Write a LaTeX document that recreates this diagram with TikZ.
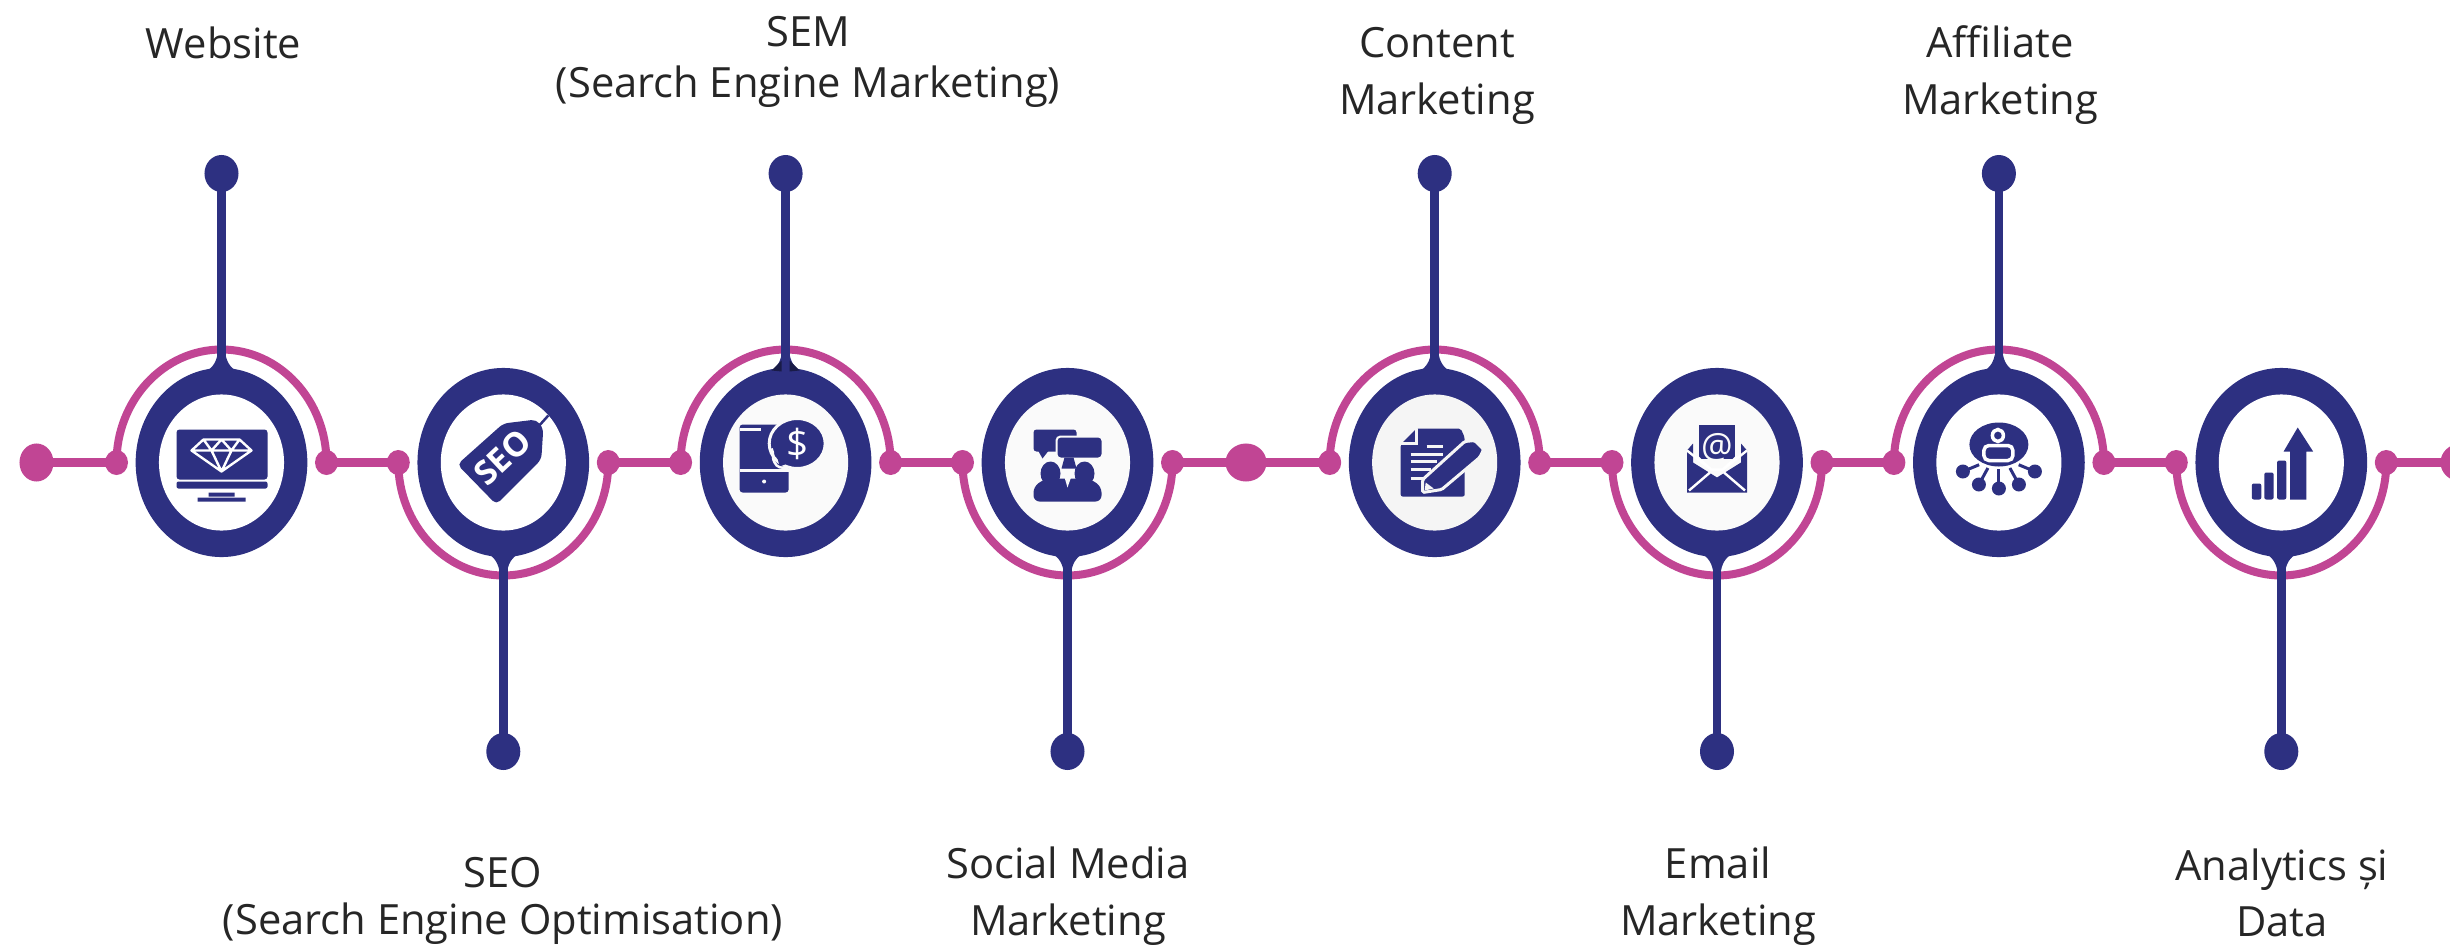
\documentclass[tikz,border=0pt]{standalone}
\usepackage{fontspec}
\setmainfont{Open Sans}
\usetikzlibrary{shapes.geometric}
\definecolor{navyink}{HTML}{2D3081}
\definecolor{plum}{HTML}{C14594}
\definecolor{labelgray}{HTML}{262626}
\tikzset{
  ring/.style={ellipse, fill=navyink, inner sep=0pt, minimum width=1.716cm, minimum height=1.89cm},
  face/.style={ellipse, inner sep=0pt, minimum width=1.25cm, minimum height=1.36cm},
  joint/.style={ellipse, fill=plum, inner sep=0pt, minimum width=0.23cm, minimum height=0.25cm},
  bigjoint/.style={ellipse, fill=plum, inner sep=0pt, minimum height=0.38cm},
  tipdot/.style={ellipse, fill=navyink, inner sep=0pt, minimum width=0.34cm, minimum height=0.37cm},
  track/.style={draw=plum, line width=0.09cm},
  loopline/.style={draw=plum, line width=0.08cm},
  stem/.style={draw=navyink, line width=0.085cm},
  caption/.style={text=labelgray, font=\fontsize{11.85}{13}\selectfont, align=center, inner sep=0pt},
  cut/.style={draw=white, line width=0.024cm},
  cutfat/.style={draw=white, line width=0.035cm}
}
\begin{document}
\begin{tikzpicture}[x=0.01cm, y=-0.01cm]
  \useasboundingbox (0,0) rectangle (2450,945);

  % rings, joints and end dots
  \foreach \i/\cx/\sd/\fc in {1/221.5/1/white, 2/503.3/-1/white, 3/785.6/1/black!2, 4/1067.5/-1/black!2,
                              5/1434.7/1/black!4, 6/1717/-1/black!2, 7/1998.9/1/white, 8/2281.3/-1/white} {
    \node[ring] (ring\i) at (\cx,462.5) {};
    \node[face, fill=\fc] (face\i) at (\cx,462.5) {};
    \node[joint] (jl\i) at ({\cx-105},462.5) {};
    \node[joint] (jr\i) at ({\cx+105},462.5) {};
    \node[tipdot] (tip\i) at (\cx,{462.5-289*\sd}) {};
    \coordinate (apex\i) at (\cx,{462.5-113*\sd});
    % half loop round the ring
    \draw[loopline] (jl\i.center) .. controls +(0,{-62*\sd}) and +(-58,0) .. (apex\i)
      .. controls +(58,0) and +(0,{-62*\sd}) .. (jr\i.center);
    \draw[stem] (ring\i) -- (tip\i.center);
    \fill[navyink, shift={(ring\i.center)}, yscale=\sd] (-20,-88) .. controls (-10,-94) and (-6,-98) .. (-4,-108)
      -- (4,-108) .. controls (6,-98) and (10,-94) .. (20,-88) -- cycle;
  }
  \node[bigjoint, minimum width=0.34cm] (start) at (36.5,462.5) {};
  \node[bigjoint, minimum width=0.41cm] (mid) at (1246,462.5) {};
  \node[bigjoint, minimum width=0.41cm] (finish) at (2461,462.5) {};

  % dark corners under the third stem
  \fill[navyink!55!black] (ring3.center) ++(-14,-92) -- ++(10,-10) -- ++(0,11) -- cycle;
  \fill[navyink!55!black] (ring3.center) ++(14,-92) -- ++(-10,-10) -- ++(0,11) -- cycle;

  % pink track
  \draw[track] (start.center) -- (jl1.center);
  \draw[track] (jr1.center) -- (jl2.center);
  \draw[track] (jr2.center) -- (jl3.center);
  \draw[track] (jr3.center) -- (jl4.center);
  \draw[track] (jr4.center) -- (mid.center);
  \draw[track] (mid.center) -- (jl5.center);
  \draw[track] (jr5.center) -- (jl6.center);
  \draw[track] (jr6.center) -- (jl7.center);
  \draw[track] (jr7.center) -- (jl8.center);
  \draw[track] (jr8.center) -- (finish.center);

  % captions
  \node[caption] (capweb) at (223.5,43) {Website};
  \node[caption] (capsem) at (808,62) {SEM\\[0.06cm](Search Engine Marketing)};
  \node[caption] (capcontent) at (1437,76) {Content\\[0.12cm]Marketing};
  \node[caption] (capaffil) at (2000,75) {Affiliate\\[0.12cm]Marketing};
  \node[caption] (capseo) at (503,901) {SEO\\[0.02cm](Search Engine Optimisation)};
  \node[caption] (capsocial) at (1068,896) {Social Media\\[0.11cm]Marketing};
  \node[caption] (capemail) at (1718,896) {Email\\[0.11cm]Marketing};
  \node[caption] (capdata) at (2282,893) {Analytics și\\[0.11cm]Data};

  % website icon
  \begin{scope}[shift={(ring1.center)}]
    \fill[navyink, rounded corners=0.03cm] (-45,-33) rectangle (46,17);
    \fill[navyink, rounded corners=0.02cm] (-45,19) rectangle (46,26);
    \fill[navyink] (-13,30) rectangle (13,34) (-24,35) rectangle (24,39);
    \draw[cut, line join=round] (-18,-23) -- (18,-23) -- (30,-12) -- (0,9) -- (-30,-12) -- cycle
      (-30,-12) -- (30,-12) (-18,-23) -- (-10,-12) -- (0,9) -- (10,-12) -- (18,-23)
      (-10,-12) -- (0,-23) -- (10,-12);
  \end{scope}

  % seo tag icon
  \begin{scope}[shift={(ring2.center)}]
    \fill[navyink, rounded corners=0.05cm] (0,-39) -- (33,-43) -- (40,-34) -- (38,-3) -- (-7,42) -- (-46,2) -- cycle;
    \draw[navyink, line width=0.025cm] (36,-37) -- (45,-47);
    \node[text=white, font=\fontsize{9.5}{11}\bfseries, rotate=43, inner sep=0pt] (seotxt) at (-1,-5) {SEO};
  \end{scope}

  % sem phone icon
  \begin{scope}[shift={(ring3.center)}]
    \fill[navyink, rounded corners=0.03cm] (-46,-38) rectangle (3,30);
    \draw[draw=black!2, line width=0.03cm] (-46,-33) -- (-25,-33) (-46,8) -- (3,8);
    \fill[black!2] (-21.5,19) circle (2);
    \fill[navyink, draw=black!2, line width=0.03cm] (11.6,-19) ellipse (28 and 25);
    \fill[navyink] (-9,-8) -- (2,1) -- (-6,4) -- cycle;
    \draw[draw=black!2, line width=0.025cm] (-14,-14) .. controls (-11,-8) and (-14,-4) .. (-11,0) .. controls (-9,5) and (-4,6) .. (3,5);
    \node[text=white, font=\fontsize{11}{13}\selectfont, inner sep=0pt] (semtxt) at (11.6,-19) {\$};
  \end{scope}

  % social media icon
  \begin{scope}[shift={(ring4.center)}]
    \fill[navyink, rounded corners=0.03cm] (-34,-33) rectangle (9,-11);
    \fill[navyink] (-30,-13) -- (-25,-4) -- (-18,-13) -- cycle;
    \fill[navyink, draw=black!2, line width=0.02cm, rounded corners=0.04cm] (-11,-26) rectangle (35,-4);
    \fill[navyink] (-3,-5) -- (6,-5) -- (9,6) -- (-6,6) -- cycle;
    \fill[navyink] (-17,11) ellipse (10 and 12) (17,11) ellipse (10 and 12);
    \fill[navyink, rounded corners=0.06cm] (-34,39) -- (-34,24) -- (-22,16) -- (22,16) -- (34,24) -- (34,39) -- cycle;
    \fill[black!2] (-5,8) -- (6,8) -- (0,25) -- cycle;
  \end{scope}

  % content icon
  \begin{scope}[shift={(ring5.center)}]
    \fill[navyink, rounded corners=0.02cm] (-34,-18) -- (-18,-34) -- (26,-34) -- (30,-25) -- (30,34) -- (-34,34) -- cycle;
    \draw[draw=black!4, line width=0.025cm] (-34,-19) -- (-18,-19) -- (-18,-34);
    \draw[draw=black!4, line width=0.025cm] (-8,-16) -- (8,-16);
    \foreach \ly/\lx in {-8/8, -1/2, 7/-4, 16/-10}
      \draw[draw=black!4, line width=0.025cm] (-24,\ly) -- (\lx,\ly);
    \fill[navyink, draw=black!4, line width=0.03cm, rounded corners=0.015cm] (-12,30) -- (-12,17) -- (30,-21) -- (40,-22) -- (49,-13) -- (45,-5) -- (7,27) -- cycle;
    \fill[black!4] (-10,28) -- (-9,20) -- (-1,26) -- cycle;
  \end{scope}

  % email icon
  \begin{scope}[shift={(ring6.center)}]
    \fill[navyink] (-18,-38) rectangle (18,-4);
    \fill[navyink] (-30,-12) -- (-24,-19) -- (-24,0) -- (0,15) -- (24,0) -- (24,-19) -- (30,-12) -- (30,30) -- (-30,30) -- cycle;
    \draw[cut] (-30,-12) -- (-6,7) -- (6,7) -- (30,-12);
    \draw[cut] (-28,28) -- (-7,10) (28,28) -- (7,10);
    \draw[cut] (-6,7) -- (-20,-6) (6,7) -- (20,-6);
    \node[text=black!2, font=\fontsize{10}{12}\selectfont, inner sep=0pt] (mailtxt) at (0,-15) {@};
  \end{scope}

  % affiliate icon
  \begin{scope}[shift={(ring7.center)}]
    \fill[navyink] (0,-18) ellipse (29.5 and 22);
    \draw[cutfat] (-1,-27) ellipse (5.5 and 6);
    \draw[cutfat, rounded corners=0.05cm] (-15,-2) -- (-15,-17) -- (14,-17) -- (14,-2) -- cycle;
    \foreach \nx/\ny in {-36/9, -20/22, 0/26, 20/22, 36/9} {
      \fill[navyink] (\nx,\ny) circle (7);
      \draw[navyink, line width=0.03cm] (\nx,\ny) -- ({\nx*0.55},{\ny*0.25});
    }
  \end{scope}

  % analytics icon
  \begin{scope}[shift={(ring8.center)}]
    \fill[navyink, rounded corners=0.02cm] (-29.5,37) -- (-29.5,21) -- (-20,21) -- (-20,37) -- cycle;
    \fill[navyink, rounded corners=0.02cm] (-17,37) -- (-17,10) -- (-7.7,10) -- (-7.7,37) -- cycle;
    \fill[navyink, rounded corners=0.02cm] (-4.2,37) -- (-4.2,-2) -- (5,-2) -- (5,37) -- cycle;
    \fill[navyink] (8.8,37) -- (8.8,-11) -- (2.3,-11) -- (16.4,-35) -- (31.8,-11) -- (25,-11) -- (25,37) -- cycle;
  \end{scope}
\end{tikzpicture}
\end{document}
